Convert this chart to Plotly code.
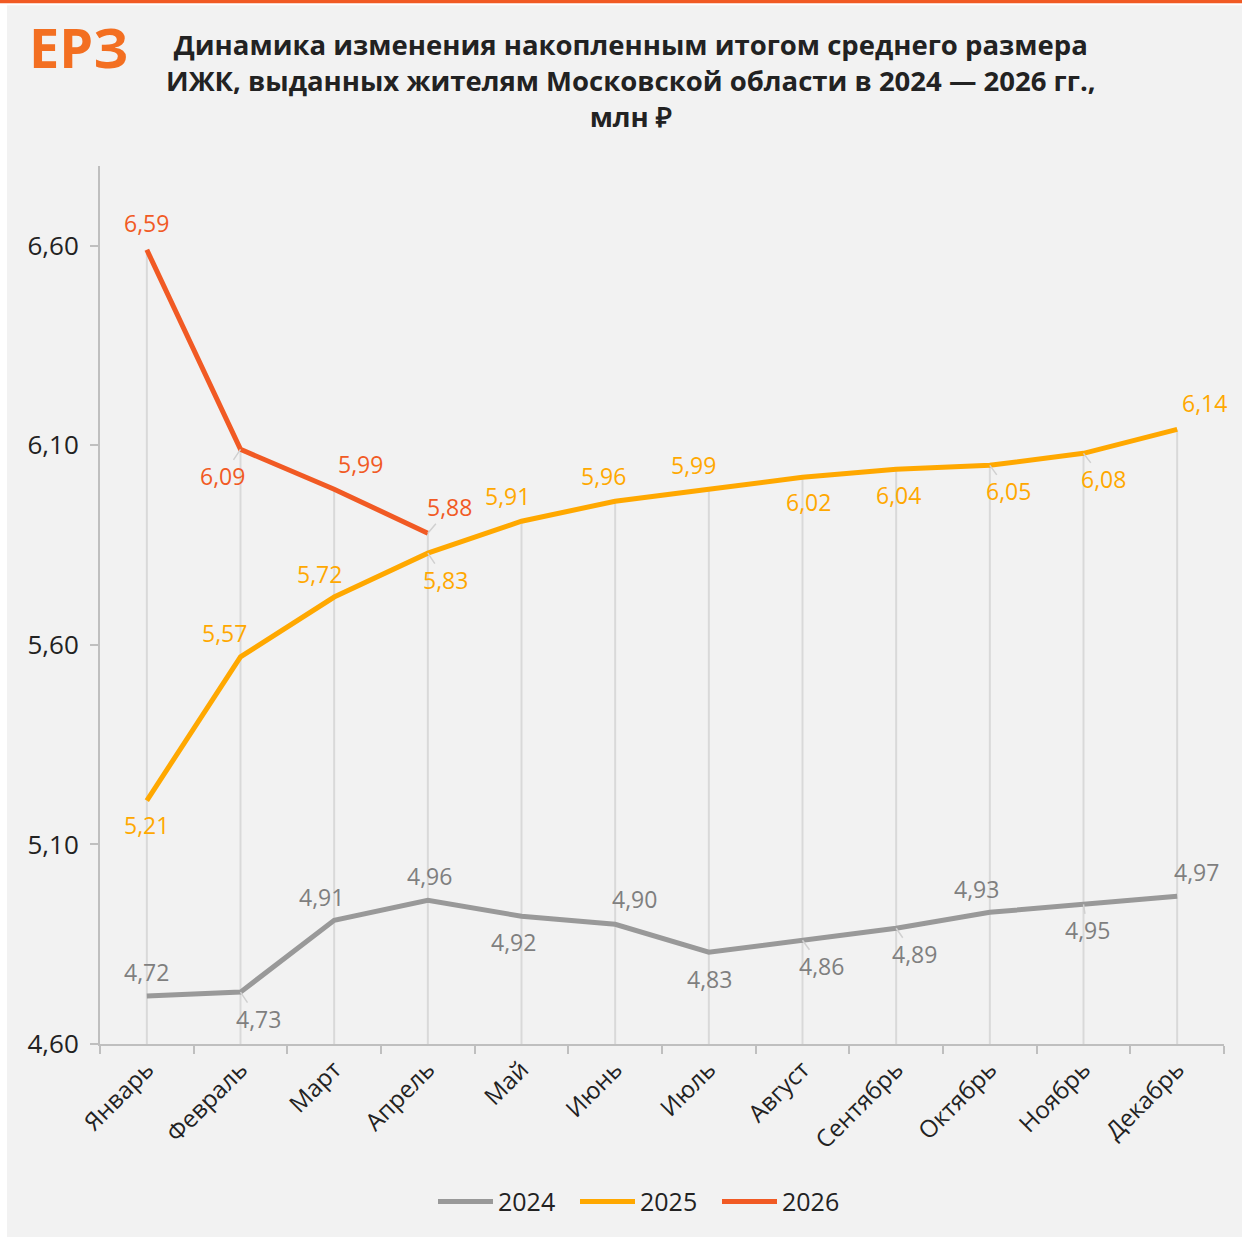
import plotly.graph_objects as go

months = ["Январь", "Февраль", "Март", "Апрель", "Май", "Июнь", "Июль",
          "Август", "Сентябрь", "Октябрь", "Ноябрь", "Декабрь"]
v2024 = [4.72, 4.73, 4.91, 4.96, 4.92, 4.90, 4.83, 4.86, 4.89, 4.93, 4.95, 4.97]
v2025 = [5.21, 5.57, 5.72, 5.83, 5.91, 5.96, 5.99, 6.02, 6.04, 6.05, 6.08, 6.14]
v2026 = [6.59, 6.09, 5.99, 5.88]
y_ticks = [4.60, 5.10, 5.60, 6.10, 6.60]

# label offsets (px) and leader-line flags
off2024 = [(0, -24), (18, 27), (-13, -23), (2, -24), (-8, 26), (19, -25),
           (1, 27), (19, 26), (18, 26), (-13, -23), (4, 26), (19, -24)]
lead2024 = [0, 1, 0, 0, 0, 0, 0, 1, 1, 0, 1, 0]
off2025 = [(0, 24), (-16, -24), (-15, -23), (18, 27), (-14, -25), (-12, -25),
           (-15, -24), (6, 25), (2, 26), (19, 26), (20, 26), (27, -26)]
lead2025 = [0, 0, 0, 1, 0, 0, 0, 0, 0, 1, 1, 0]
off2026 = [(0, -27), (-18, 27), (26, -25), (22, -26)]
lead2026 = [0, 1, 0, 1]

C24, C25, C26 = "#999999", "#FFA800", "#F15A24"
L24, L25, L26 = "#7F7F7F", "#FFA800", "#F15A24"
FONT = "Open Sans"

fig = go.Figure()

# drop lines from the highest point to the axis
dx, dy = [], []
for i, m in enumerate(months):
    vals = [v2024[i], v2025[i]] + ([v2026[i]] if i < len(v2026) else [])
    dx += [m, m, None]
    dy += [y_ticks[0], max(vals), None]
fig.add_trace(go.Scatter(x=dx, y=dy, mode="lines", line=dict(color="#d9d9d9", width=2),
                         showlegend=False, hoverinfo="skip"))

for name, vals, col in [("2024", v2024, C24), ("2025", v2025, C25), ("2026", v2026, C26)]:
    fig.add_trace(go.Scatter(x=months[:len(vals)], y=vals, mode="lines", name=name,
                             line=dict(color=col, width=5)))

anns = []
for vals, offs, leads, col in [(v2024, off2024, lead2024, L24), (v2025, off2025, lead2025, L25),
                               (v2026, off2026, lead2026, L26)]:
    for i, v in enumerate(vals):
        ax, ay = offs[i]
        anns.append(dict(x=months[i], y=v, xref="x", yref="y", text=f"{v:.2f}".replace(".", ","),
                         showarrow=True, ax=ax, ay=ay, arrowhead=0, arrowwidth=1.5,
                         arrowcolor="#d0d0d0" if leads[i] else "rgba(0,0,0,0)",
                         font=dict(family=FONT, size=23, color=col), borderpad=0))


def px_x(p):
    return (p - 100) / 1124


def px_y(q):
    return (1046 - q) / 880


# logo
anns.append(dict(text="<b>ЕРЗ</b>", xref="paper", yref="paper", x=px_x(27), y=px_y(47),
                 xanchor="left", yanchor="middle", showarrow=False,
                 font=dict(family=FONT, size=54, color="#F36F21")))
# title
anns.append(dict(text="<b>Динамика изменения накопленным итогом среднего размера<br>"
                      "ИЖК, выданных жителям Московской области в 2024 — 2026 гг.,<br>млн ₽</b>",
                 xref="paper", yref="paper", x=px_x(631), y=px_y(24),
                 xanchor="center", yanchor="top", showarrow=False, align="center",
                 font=dict(family=FONT, size=27.5, color="#222222")))

shapes = [
    dict(type="rect", xref="paper", yref="paper", x0=px_x(7), x1=px_x(1260), y0=px_y(1260), y1=px_y(5),
         fillcolor="#F2F2F2", line=dict(width=0), layer="below"),
    dict(type="rect", xref="paper", yref="paper", x0=px_x(-5), x1=px_x(1260), y0=px_y(3), y1=px_y(-5),
         fillcolor="#F15A24", line=dict(width=0), layer="below"),
]

fig.update_layout(
    width=1242, height=1237,
    margin=dict(l=100, r=18, t=166, b=191),
    paper_bgcolor="white", plot_bgcolor="#F2F2F2",
    font=dict(family=FONT, color="#222222"),
    annotations=anns, shapes=shapes,
    showlegend=True,
    legend=dict(orientation="h", x=px_x(646), xanchor="center", y=px_y(1204), yanchor="middle",
                font=dict(family=FONT, size=25, color="#222222"), bgcolor="rgba(0,0,0,0)",
                itemwidth=55, entrywidth=72, entrywidthmode="pixels"),
    separators=", ",
)
fig.update_xaxes(type="category", range=[-0.5, 11.5], showline=True, linecolor="#BFBFBF", linewidth=2,
                 ticks="outside", tickson="boundaries", ticklen=8, tickcolor="#BFBFBF", tickwidth=2,
                 tickangle=-45, showgrid=False, tickfont=dict(family=FONT, size=24, color="#222222"))
fig.update_yaxes(range=[4.6, 6.8], tickvals=y_ticks, tickformat=".2f", showline=True, linecolor="#BFBFBF",
                 linewidth=2, ticks="outside", ticklen=8, tickcolor="#BFBFBF", tickwidth=2, showgrid=False,
                 zeroline=False, ticklabelstandoff=6, tickfont=dict(family=FONT, size=26, color="#222222"))

fig.write_html("out.html", config={"displayModeBar": False},
               post_script="document.body.style.margin='0';document.body.style.overflow='hidden';")
